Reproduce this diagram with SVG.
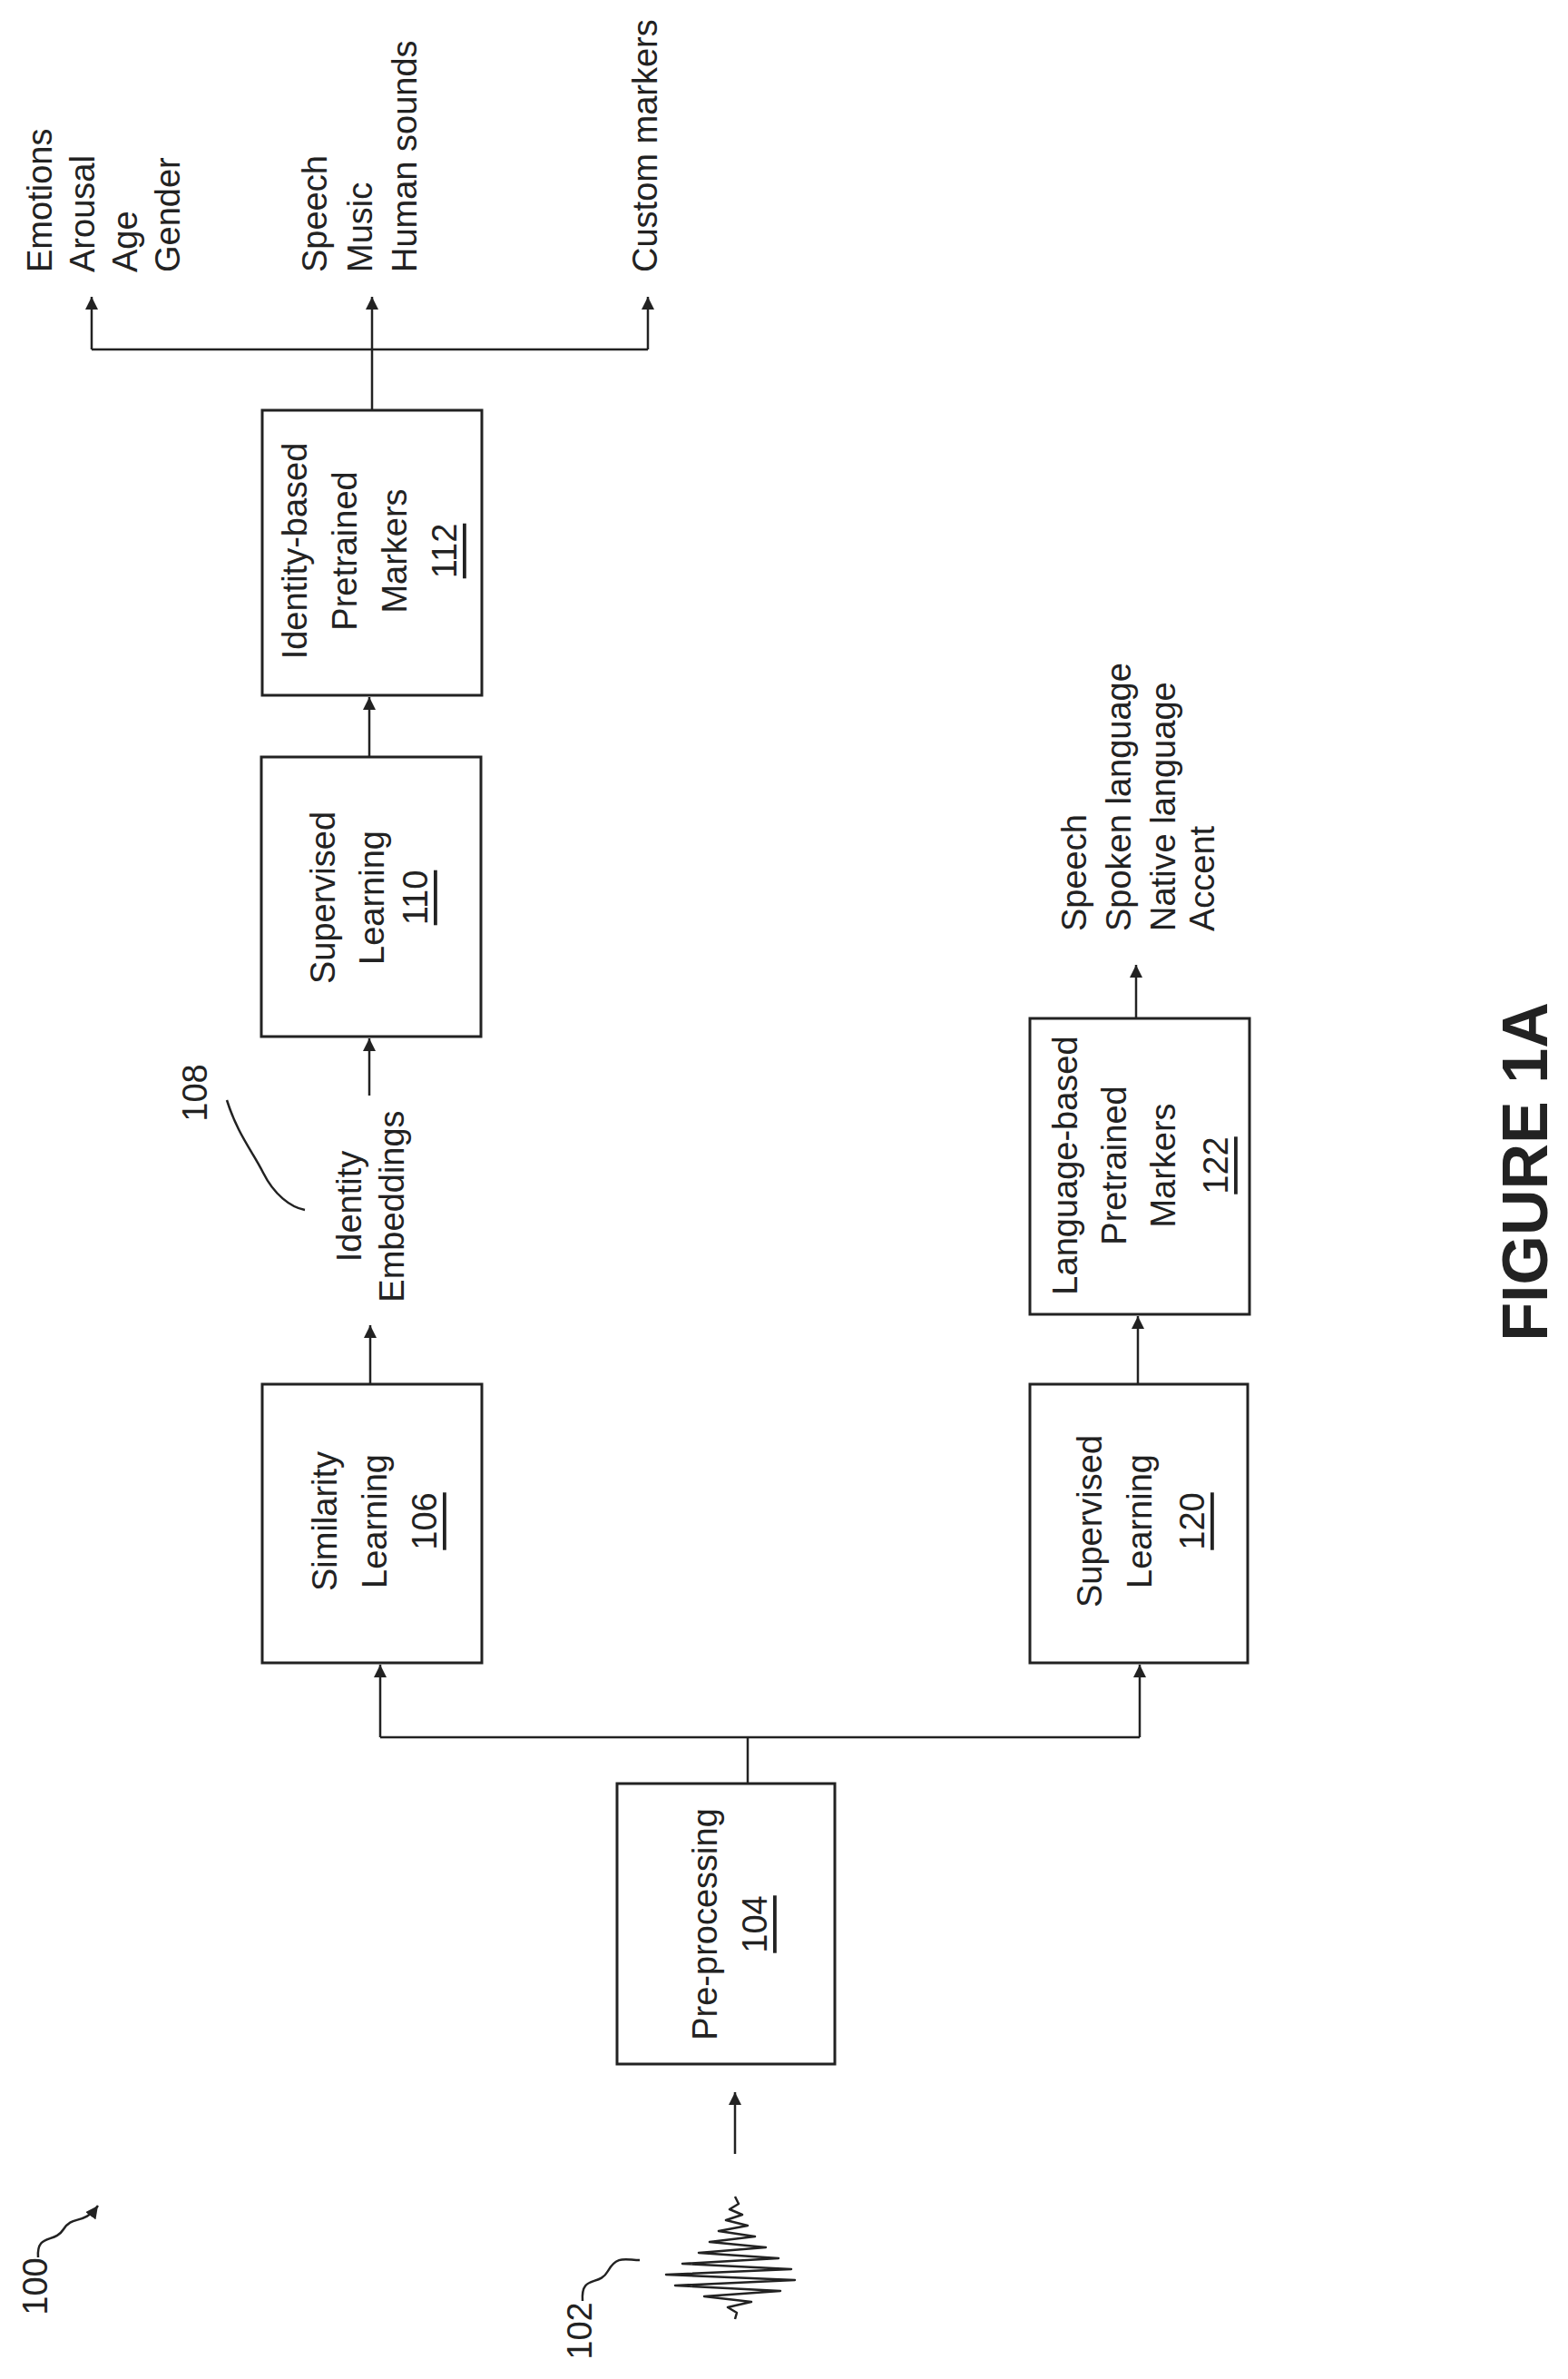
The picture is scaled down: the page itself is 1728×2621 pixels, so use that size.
<svg xmlns="http://www.w3.org/2000/svg" width="1728" height="2621" viewBox="0 0 1728 2621">
<style>
.box{fill:#fff;stroke:#222;stroke-width:3}
.ln{fill:none;stroke:#222;stroke-width:2.5}
.t{font-family:"Liberation Sans",Arial,sans-serif;font-size:38px;fill:#222;dominant-baseline:central}
.m{text-anchor:middle}
.u{text-decoration:underline}
</style>
<defs>
<marker id="ah" viewBox="0 0 10 10" refX="10" refY="5" markerWidth="14" markerHeight="14" markerUnits="userSpaceOnUse" orient="auto">
<path d="M0,0 L10,5 L0,10 Z" fill="#222"/>
</marker>
</defs>
<rect width="1728" height="2621" fill="#fff"/>
<g id="connectors">
<path class="ln" d="M810,2373 V2305" marker-end="url(#ah)"/>
<path class="ln" d="M824,1965 V1914 M419,1914 H1256"/>
<path class="ln" d="M419,1914 V1834" marker-end="url(#ah)"/>
<path class="ln" d="M1256,1914 V1834" marker-end="url(#ah)"/>
<path class="ln" d="M408,1525 V1460" marker-end="url(#ah)"/>
<path class="ln" d="M1254,1525 V1450" marker-end="url(#ah)"/>
<path class="ln" d="M407,1207 V1144" marker-end="url(#ah)"/>
<path class="ln" d="M407,834 V768" marker-end="url(#ah)"/>
<path class="ln" d="M410,452 V385 M101,385 H714"/>
<path class="ln" d="M101,385 V327" marker-end="url(#ah)"/>
<path class="ln" d="M410,385 V327" marker-end="url(#ah)"/>
<path class="ln" d="M714,385 V327" marker-end="url(#ah)"/>
<path class="ln" d="M1252,1122 V1063" marker-end="url(#ah)"/>
</g>
<g id="n100">
<text class="t m" transform="translate(39,2519) rotate(-90)">100</text>
<path class="ln" d="M42,2487 C40,2460 60,2472 70,2456 S92,2452 108,2430" marker-end="url(#ah)"/>
</g>
<g id="n102">
<text class="t m" transform="translate(639,2568) rotate(-90)">102</text>
<path class="ln" d="M642,2535 C640,2505 660,2520 670,2502 S690,2490 705,2490"/>
<polyline class="ln" stroke-linejoin="round" points="810,2420 814,2428 804,2434 818,2440 800,2446 824,2452 792,2458 832,2464 782,2470 844,2476 770,2482 858,2488 752,2494 872,2500 734,2506 876,2512 744,2518 860,2524 776,2530 828,2536 802,2542 812,2548 810,2555"/>
</g>
<g id="n104">
<rect class="box" x="680" y="1965" width="240" height="309"/>
<text class="t m" transform="translate(777,2120) rotate(-90)">Pre-processing</text>
<text class="t m u" transform="translate(832,2120) rotate(-90)">104</text>
</g>
<g id="n106">
<rect class="box" x="289" y="1525" width="242" height="307"/>
<text class="t m" transform="translate(358,1676) rotate(-90)">Similarity</text>
<text class="t m" transform="translate(413,1676) rotate(-90)">Learning</text>
<text class="t m u" transform="translate(468,1676) rotate(-90)">106</text>
</g>
<g id="n120">
<rect class="box" x="1135" y="1525" width="240" height="307"/>
<text class="t m" transform="translate(1201,1676) rotate(-90)">Supervised</text>
<text class="t m" transform="translate(1256,1676) rotate(-90)">Learning</text>
<text class="t m u" transform="translate(1314,1676) rotate(-90)">120</text>
</g>
<g id="n108">
<text class="t m" transform="translate(385,1329) rotate(-90)">Identity</text>
<text class="t m" transform="translate(432,1329) rotate(-90)">Embeddings</text>
<text class="t m" transform="translate(215,1204) rotate(-90)">108</text>
<path class="ln" d="M250,1212 C262,1250 278,1268 290,1292 S320,1330 336,1333"/>
</g>
<g id="n110">
<rect class="box" x="288" y="834" width="242" height="308"/>
<text class="t m" transform="translate(356,989) rotate(-90)">Supervised</text>
<text class="t m" transform="translate(410,989) rotate(-90)">Learning</text>
<text class="t m u" transform="translate(458,989) rotate(-90)">110</text>
</g>
<g id="n112">
<rect class="box" x="289" y="452" width="242" height="314"/>
<text class="t m" transform="translate(325,607) rotate(-90)">Identity-based</text>
<text class="t m" transform="translate(380,607) rotate(-90)">Pretrained</text>
<text class="t m" transform="translate(435,607) rotate(-90)">Markers</text>
<text class="t m u" transform="translate(490,607) rotate(-90)">112</text>
</g>
<g id="n122">
<rect class="box" x="1135" y="1122" width="242" height="326"/>
<text class="t m" transform="translate(1174,1284) rotate(-90)">Language-based</text>
<text class="t m" transform="translate(1228,1284) rotate(-90)">Pretrained</text>
<text class="t m" transform="translate(1282,1284) rotate(-90)">Markers</text>
<text class="t m u" transform="translate(1340,1284) rotate(-90)">122</text>
</g>
<g id="out1">
<text class="t" transform="translate(44,300) rotate(-90)">Emotions</text>
<text class="t" transform="translate(91,300) rotate(-90)">Arousal</text>
<text class="t" transform="translate(138,300) rotate(-90)">Age</text>
<text class="t" transform="translate(185,300) rotate(-90)">Gender</text>
</g>
<g id="out2">
<text class="t" transform="translate(347,300) rotate(-90)">Speech</text>
<text class="t" transform="translate(397,300) rotate(-90)">Music</text>
<text class="t" transform="translate(446,300) rotate(-90)">Human sounds</text>
</g>
<g id="out3">
<text class="t" transform="translate(711,300) rotate(-90)">Custom markers</text>
</g>
<g id="out4">
<text class="t" transform="translate(1184,1026) rotate(-90)">Speech</text>
<text class="t" transform="translate(1233,1026) rotate(-90)">Spoken language</text>
<text class="t" transform="translate(1282,1026) rotate(-90)">Native language</text>
<text class="t" transform="translate(1325,1026) rotate(-90)">Accent</text>
</g>
<g id="title">
<text class="t m" style="font-size:70px;font-weight:bold" transform="translate(1681,1291) rotate(-90)">FIGURE 1A</text>
</g>
</svg>
